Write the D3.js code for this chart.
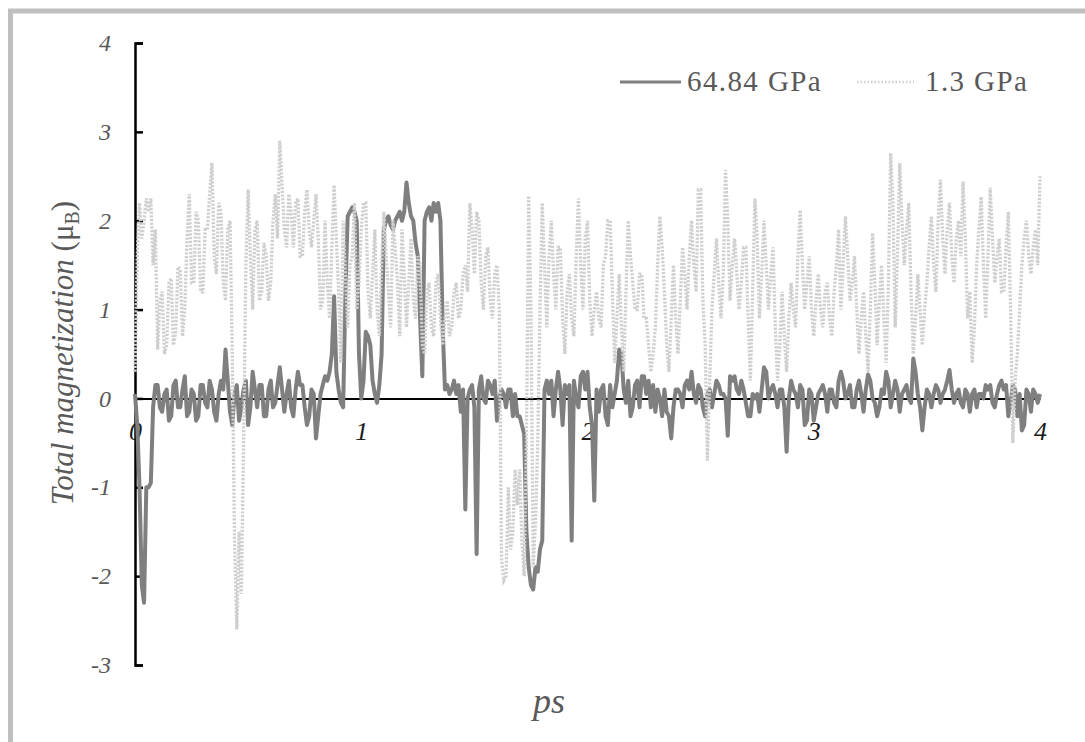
<!DOCTYPE html>
<html>
<head>
<meta charset="utf-8">
<script src="https://cdn.jsdelivr.net/npm/d3@7"></script>
</head>
<body style="margin:0">
<svg id="chart" width="1085" height="742" style="background:#fff"></svg>
<script>
// ---- data ----
const timeStep = 0.01; // ps between samples
const seriesNames = ["64.84 GPa", "1.3 GPa"];
const xTicks = [0, 1, 2, 3, 4];
const yTicks = [-3, -2, -1, 0, 1, 2, 3, 4];

const highPressure = [
  0.05, -0.3, -1.0, -2.1, -2.3, -1.0, -1.0, -0.95, -0.1, 0.15,
  0.15, -0.1, -0.15, 0.05, 0.1, -0.25, -0.2, 0.15, 0.2, -0.1,
  -0.1, 0.1, 0.25, -0.2, -0.15, 0.1, 0.05, -0.25, -0.2, 0.15,
  0.15, -0.05, -0.1, 0.2, 0.1, -0.15, -0.25, 0.05, 0.2, 0.1,
  0.55, 0.2, -0.15, -0.3, 0.05, 0.15, -0.25, -0.1, 0.1, 0.2,
  -0.3, -0.1, 0.3, 0.1, -0.1, 0.15, 0.15, -0.2, -0.2, 0.1,
  0.2, -0.1, -0.05, 0.15, 0.35, 0.1, -0.15, 0.05, 0.2, -0.1,
  -0.2, 0.1, 0.3, 0.15, 0.15, -0.1, -0.3, -0.2, 0.1, 0.05,
  -0.45, -0.2, 0.05, 0.15, 0.25, 0.2, 0.3, 0.5, 1.15, 0.3,
  0.1, -0.05, -0.1, 1.2, 2.05, 2.1, 2.15, 2.1, 2.0, 0.5,
  0.0, 0.2, 0.75, 0.7, 0.6, 0.2, 0.05, -0.05, 0.15, 0.5,
  1.9, 2.0, 2.05, 1.95, 1.9, 2.0, 2.05, 2.1, 2.0, 2.1,
  2.43, 2.2, 2.05, 2.0, 1.75, 1.6, 0.9, 0.25, 2.0, 2.1,
  2.15, 2.0, 2.2, 2.1, 2.2, 2.0, 0.8, 0.1, 0.15, 0.05,
  0.1, 0.2, 0.05, 0.15, -0.15, 0.1, -1.25, 0.0, 0.1, 0.15,
  -0.1, -1.75, 0.1, 0.25, 0.0, -0.05, 0.2, 0.15, 0.05, 0.2,
  -0.25, 0.0, 0.1, 0.05, -0.1, 0.1, 0.1, -0.2, 0.05, -0.2,
  -0.2, -0.3, -0.4, -1.5, -1.9, -2.1, -2.15, -1.9, -1.95, -1.7,
  -1.6, 0.1, 0.2, 0.05, 0.2, -0.2, 0.1, 0.3, 0.1, -0.3,
  0.15, 0.05, 0.15, -1.6, 0.2, 0.0, -0.1, 0.25, 0.3, 0.1,
  0.3, -0.1, -0.3, -1.15, 0.1, -0.15, 0.1, 0.15, -0.2, -0.3,
  0.15, -0.1, 0.05, 0.2, 0.55, 0.5, 0.1, -0.05, 0.2, -0.2,
  -0.1, 0.15, 0.2, -0.1, 0.25, 0.25, 0.05, 0.2, -0.1, 0.15,
  -0.15, 0.1, 0.0, -0.2, 0.1, -0.15, -0.2, -0.45, -0.1, 0.1,
  0.1, 0.05, -0.1, 0.15, 0.2, 0.1, 0.3, 0.05, -0.05, 0.15,
  0.1, -0.1, -0.2, 0.05, 0.1, -0.1, 0.05, 0.2, 0.15, 0.05,
  0.05, 0.0, -0.42, 0.25, 0.2, 0.25, 0.1, 0.05, 0.2, 0.1,
  -0.05, -0.2, -0.2, 0.05, 0.0, 0.05, -0.15, 0.1, 0.35, 0.3,
  0.0, 0.1, 0.15, 0.05, -0.1, 0.1, 0.1, -0.1, -0.6, 0.0,
  0.2, 0.1, 0.05, -0.1, 0.15, 0.1, -0.3, -0.25, 0.1, 0.05,
  -0.25, -0.1, 0.05, 0.1, 0.15, 0.05, -0.15, 0.1, 0.1, -0.05,
  -0.1, 0.2, 0.3, 0.2, 0.0, 0.05, 0.15, -0.1, -0.1, 0.1,
  0.2, 0.05, -0.15, 0.1, 0.27, 0.2, 0.0, -0.05, -0.2, -0.1,
  0.1, 0.05, 0.3, 0.2, -0.1, 0.05, 0.2, 0.1, -0.15, 0.05,
  0.1, 0.15, 0.0, -0.05, 0.45, 0.3, 0.05, -0.1, -0.36, -0.1,
  0.1, 0.05, -0.1, 0.05, 0.15, 0.1, -0.05, 0.05, 0.1, 0.2,
  0.32, 0.1, -0.05, 0.05, 0.1, -0.05, -0.1, 0.1, 0.05, -0.15,
  0.05, 0.1, -0.1, 0.05, 0.05, 0.0, 0.15, 0.1, 0.15, -0.05,
  -0.1, 0.05, 0.15, 0.2, 0.1, 0.15, -0.2, -0.05, 0.15, 0.1,
  -0.2, 0.05, -0.36, -0.3, 0.1, 0.05, -0.15, 0.1, 0.05, -0.05,
  0.05
];

const lowPressure = [
  0.3, 1.6, 2.2, 1.8, 2.0, 2.25, 2.1, 2.25, 1.5, 1.9,
  0.55, 1.1, 1.2, 0.5, 0.6, 1.3, 1.35, 0.6, 0.75, 1.48,
  1.45, 0.7, 1.0, 1.8, 2.3, 1.3, 1.3, 2.1, 2.0, 1.2,
  1.2, 1.9, 1.9, 2.3, 2.65, 1.6, 1.4, 2.2, 2.1, 1.3,
  1.1, 1.9, 2.0, 0.5, -1.6, -2.6, -1.5, -2.2, -0.5, 1.5,
  2.35, 1.6, 1.0, 1.9, 2.0, 1.1, 1.2, 1.75, 1.6, 1.1,
  1.3, 2.0, 2.3, 1.8, 2.9, 2.4, 1.9, 1.7, 2.3, 2.1,
  1.7, 2.2, 2.25, 1.6, 1.6, 2.1, 2.35, 1.9, 1.7, 2.0,
  2.3, 1.8, 1.0, 1.1, 2.0, 1.3, 0.9, 1.7, 2.4, 1.8,
  1.2, 0.4, 2.0, 1.4, 0.8, 1.5, 1.6, 2.2, 1.0, 1.3,
  1.9, 2.2, 2.2, 1.2, 0.9, 1.4, 1.9, 1.0, 0.7, 1.5,
  2.1, 1.6, 1.2, 0.8, 2.0, 1.7, 1.3, 0.7, 1.9, 1.4,
  0.8, 1.3, 1.8, 1.1, 0.9, 1.6, 1.5, 0.6, 0.5, 1.2,
  1.3, 0.8, 0.7, 1.3, 1.4, 0.9, 0.6, 0.9, 1.1, 0.7,
  0.8, 1.2, 1.3, 0.9, 1.0, 1.4, 1.5, 1.2, 2.2, 1.9,
  1.4, 2.1, 2.0, 1.3, 1.0, 1.6, 1.7, 1.1, 0.9, 1.4,
  1.5, 1.0, -1.8, -2.05, -2.0, -1.0, -1.7, -1.5, -0.8, -1.2,
  -0.8, -1.6, -2.0, -0.5, 2.28, 1.0, -1.9, -1.4, -0.5, 1.0,
  2.2, 1.5, 0.8, 1.6, 2.0, 1.4, 1.0, 1.7, 1.7, 0.9,
  0.5, 1.2, 1.4, 0.9, 0.7, 1.6, 2.25, 1.5, 1.0, 1.8,
  2.0, 1.1, 0.7, 1.0, 1.2, 0.9, 0.8, 1.5, 1.6, 2.0,
  2.0, 1.2, 0.4, 0.9, 1.4, 0.8, 0.3, 1.2, 2.0, 1.6,
  1.3, 1.0, 1.0, 1.4, 1.4, 0.9, 0.9, 0.6, 0.3, 0.5,
  0.8, 1.5, 2.05, 1.7, 1.2, 0.6, 0.3, 0.9, 1.5, 0.9,
  0.5, 1.1, 1.7, 1.4, 1.0, 1.6, 2.0, 1.5, 1.2, 2.35,
  2.35, 1.1, 0.6, -0.7, 0.2, 1.0, 1.4, 1.8, 1.3, 0.9,
  1.4, 2.57, 2.0, 1.1, 1.5, 1.8, 1.4, 1.0, 1.3, 1.7,
  1.7, 0.9, 0.2, 1.2, 2.25, 1.8, 0.9, 1.4, 2.0, 1.5,
  1.0, 1.4, 1.7, 0.8, 0.2, 0.6, 1.2, 0.7, 0.3, 0.9,
  1.3, 1.0, 0.8, 1.6, 2.12, 1.5, 1.0, 1.3, 1.6, 1.0,
  0.7, 1.1, 1.4, 1.0, 0.8, 1.2, 1.3, 0.9, 0.7, 1.2,
  1.5, 1.9, 1.0, 1.5, 2.05, 1.6, 1.1, 1.3, 1.6, 1.0,
  0.5, 0.9, 1.2, 0.7, 0.3, 1.0, 1.86, 1.3, 0.6, 1.1,
  1.5, 0.9, 0.4, 1.3, 2.76, 2.2, 0.8, 1.6, 2.65, 2.0,
  1.5, 1.9, 2.2, 1.2, 0.5, 0.9, 1.4, 1.0, 0.6, 1.0,
  1.3, 1.7, 2.05, 1.5, 1.2, 2.0, 2.46, 1.8, 1.4, 1.9,
  2.2, 1.6, 1.3, 1.8, 2.0, 1.6, 2.44, 1.8, 0.9, 1.2,
  0.4, 0.8, 1.5, 1.9, 2.27, 1.5, 0.9, 1.6, 2.37, 1.8,
  1.3, 1.6, 1.8, 1.2, 1.2, 1.7, 2.1, 1.0, -0.5, 0.2,
  0.5, 1.0, 1.5, 1.8, 2.0, 1.6, 1.4, 1.7, 1.9, 1.5,
  2.5
];

// ---- layout ----
const FONT = '"Liberation Serif", Tinos, "Times New Roman", cursive';
const svg = d3.select("#chart");
const x = d3.scaleLinear().domain([0, 4]).range([135, 1040]);
const y = d3.scaleLinear().domain([-3, 4]).range([665, 43]);

// outer frame
svg.append("rect")
  .attr("x", 10.5).attr("y", 11)
  .attr("width", 1200).attr("height", 900)
  .attr("fill", "none").attr("stroke", "#bfbfbf").attr("stroke-width", 5);

// x axis (zero line)
const xAxis = d3.axisBottom(x).tickValues(xTicks).tickSize(0).tickPadding(0).tickFormat(d => String(d));
const gx = svg.append("g").attr("transform", `translate(0,${y(0)})`).call(xAxis);
gx.attr("font-family", null);
gx.select(".domain").attr("stroke", "#000").attr("stroke-width", 2);
gx.selectAll("text")
  .attr("dy", null).attr("y", 42)
  .attr("fill", "#1a1a1a")
  .style("font-family", FONT)
  .style("font-style", "italic")
  .style("font-size", "26px");

// y axis
const yAxis = d3.axisRight(y).tickValues(yTicks).tickSize(8).tickFormat(d => String(d));
const gy = svg.append("g").attr("transform", `translate(${x(0)},0)`).call(yAxis);
gy.attr("font-family", null);
gy.select(".domain").attr("stroke", "#000").attr("stroke-width", 2.5);
gy.selectAll(".tick line").attr("stroke", "#000").attr("stroke-width", 2.5);
gy.selectAll("text")
  .attr("x", -24).attr("text-anchor", "end")
  .attr("fill", "#595959")
  .style("font-family", FONT)
  .style("font-style", "italic")
  .style("font-size", "24px");

// series
const line = d3.line()
  .x((d, i) => x(i * timeStep))
  .y(d => y(d));

svg.append("path")
  .datum(highPressure)
  .attr("d", line)
  .attr("fill", "none")
  .attr("stroke", "#7f7f7f")
  .attr("stroke-width", 4)
  .attr("stroke-linejoin", "round");

svg.append("path")
  .datum(lowPressure)
  .attr("d", line)
  .attr("fill", "none")
  .attr("stroke", "#cfcfcf")
  .attr("stroke-width", 3.3)
  .attr("stroke-dasharray", "2.2,1.5");

// legend
const legend = svg.append("g");
legend.append("line").attr("x1", 620).attr("x2", 681).attr("y1", 82).attr("y2", 82)
  .attr("stroke", "#7f7f7f").attr("stroke-width", 3);
legend.append("text").attr("x", 687).attr("y", 91).text(seriesNames[0])
  .attr("fill", "#595959")
  .style("font-family", FONT).style("font-size", "29px").style("letter-spacing", "1.4px");
legend.append("line").attr("x1", 857).attr("x2", 914).attr("y1", 82).attr("y2", 82)
  .attr("stroke", "#cfcfcf").attr("stroke-width", 2.5).attr("stroke-dasharray", "1.5,2");
legend.append("text").attr("x", 925).attr("y", 91).text(seriesNames[1])
  .attr("fill", "#595959")
  .style("font-family", FONT).style("font-size", "29px").style("letter-spacing", "1.4px");

// axis titles
const yTitle = svg.append("text")
  .attr("transform", "translate(73,353) rotate(-90)")
  .attr("text-anchor", "middle")
  .attr("fill", "#595959")
  .style("font-family", FONT)
  .style("font-size", "31px");
yTitle.append("tspan").style("font-style", "italic").text("Total magnetization ");
yTitle.append("tspan").text("(μ");
yTitle.append("tspan").style("font-size", "20px").attr("dy", 6).text("B");
yTitle.append("tspan").attr("dy", -6).text(")");

svg.append("text")
  .attr("x", 549).attr("y", 713)
  .attr("text-anchor", "middle")
  .attr("fill", "#595959")
  .style("font-family", FONT)
  .style("font-style", "italic")
  .style("font-size", "36px")
  .text("ps");
</script>
</body>
</html>
